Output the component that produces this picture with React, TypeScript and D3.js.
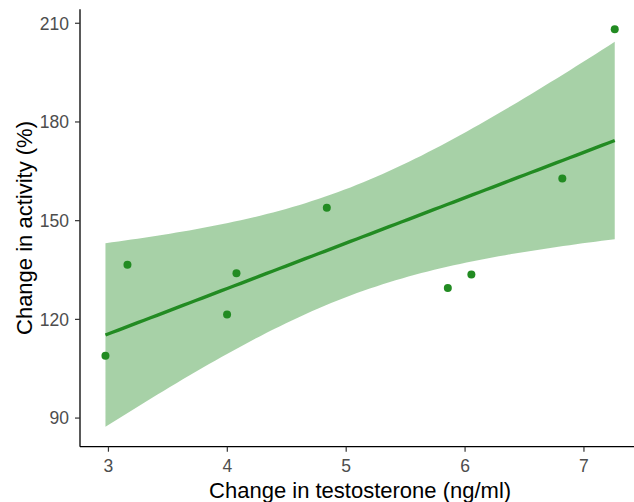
import React from "react";
import * as d3 from "d3";

const testosterone = [2.975, 3.16, 3.998, 4.077, 4.837, 5.855, 6.053, 6.818, 7.259];
const activity = [108.96, 136.6, 121.5, 134.05, 153.9, 129.5, 133.65, 162.8, 208.2];
const xTicks = [3, 4, 5, 6, 7];
const yTicks = [90, 120, 150, 180, 210];
const xTitle = "Change in testosterone (ng/ml)";
const yTitle = "Change in activity (%)";
const T_975_DF7 = 2.364624;

const W = 634, H = 502;
const panel = { left: 80, top: 9.3, bottom: 446.7, right: 640.2 };
const GREEN = "#228B22";

function fit() {
  const n = testosterone.length;
  const mx = d3.mean(testosterone)!;
  const my = d3.mean(activity)!;
  let sxx = 0, sxy = 0;
  for (let i = 0; i < n; i++) {
    sxx += (testosterone[i] - mx) ** 2;
    sxy += (testosterone[i] - mx) * (activity[i] - my);
  }
  const b = sxy / sxx;
  const a = my - b * mx;
  let ssr = 0;
  for (let i = 0; i < n; i++) ssr += (activity[i] - a - b * testosterone[i]) ** 2;
  const s = Math.sqrt(ssr / (n - 2));
  const [x0, x1] = d3.extent(testosterone) as [number, number];
  const pts = d3.range(80).map((i) => {
    const x = x0 + ((x1 - x0) * i) / 79;
    const y = a + b * x;
    const se = s * Math.sqrt(1 / n + (x - mx) ** 2 / sxx);
    return { x, y, lo: y - T_975_DF7 * se, hi: y + T_975_DF7 * se };
  });
  return pts;
}

export default function App() {
  const pts = fit();
  const [xmin, xmax] = d3.extent(testosterone) as [number, number];
  const ymin = Math.min(d3.min(activity)!, d3.min(pts, (p) => p.lo)!);
  const ymax = Math.max(d3.max(activity)!, d3.max(pts, (p) => p.hi)!);
  const xr = xmax - xmin, yr = ymax - ymin;
  const x = d3.scaleLinear().domain([xmin - 0.05 * xr, xmax + 0.05 * xr]).range([panel.left, panel.right]);
  const y = d3.scaleLinear().domain([ymin - 0.05 * yr, ymax + 0.05 * yr]).range([panel.bottom, panel.top]);

  const area = d3.area<any>().x((p) => x(p.x)).y0((p) => y(p.lo)).y1((p) => y(p.hi))(pts)!;
  const line = d3.line<any>().x((p) => x(p.x)).y((p) => y(p.y))(pts)!;
  const font = "'Liberation Sans', Arial, Helvetica, sans-serif";
  const cx = (panel.left + panel.right) / 2;
  const cy = (panel.top + panel.bottom) / 2;

  return (
    <svg width={W} height={H} style={{ position: "absolute", left: 0, top: 0, background: "#fff" }} fontFamily={font}>
      <rect x={0} y={0} width={W} height={H} fill="#fff" />
      <path d={area} fill={GREEN} fillOpacity={0.4} />
      <path d={line} fill="none" stroke={GREEN} strokeWidth={3.4} />
      {testosterone.map((t, i) => (
        <circle key={i} cx={x(t)} cy={y(activity[i])} r={4} fill={GREEN} />
      ))}
      <line x1={panel.left} x2={panel.left} y1={panel.top} y2={panel.bottom} stroke="#000" strokeWidth={1.3} />
      <line x1={panel.left} x2={W} y1={panel.bottom} y2={panel.bottom} stroke="#000" strokeWidth={1.3} />
      {yTicks.map((v) => (
        <g key={v}>
          <line x1={panel.left - 5} x2={panel.left} y1={y(v)} y2={y(v)} stroke="#333" strokeWidth={1.2} />
          <text x={panel.left - 11} y={y(v)} dy="0.36em" textAnchor="end" fontSize={17.5} fill="#4D4D4D">{v}</text>
        </g>
      ))}
      {xTicks.map((v) => (
        <g key={v}>
          <line x1={x(v)} x2={x(v)} y1={panel.bottom} y2={panel.bottom + 5} stroke="#333" strokeWidth={1.2} />
          <text x={x(v)} y={panel.bottom + 25} textAnchor="middle" fontSize={17.5} fill="#4D4D4D">{v}</text>
        </g>
      ))}
      <text x={cx} y={498} textAnchor="middle" fontSize={22} fill="#000">{xTitle}</text>
      <text transform={`translate(31.5,${cy}) rotate(-90)`} textAnchor="middle" fontSize={22} fill="#000">{yTitle}</text>
    </svg>
  );
}
